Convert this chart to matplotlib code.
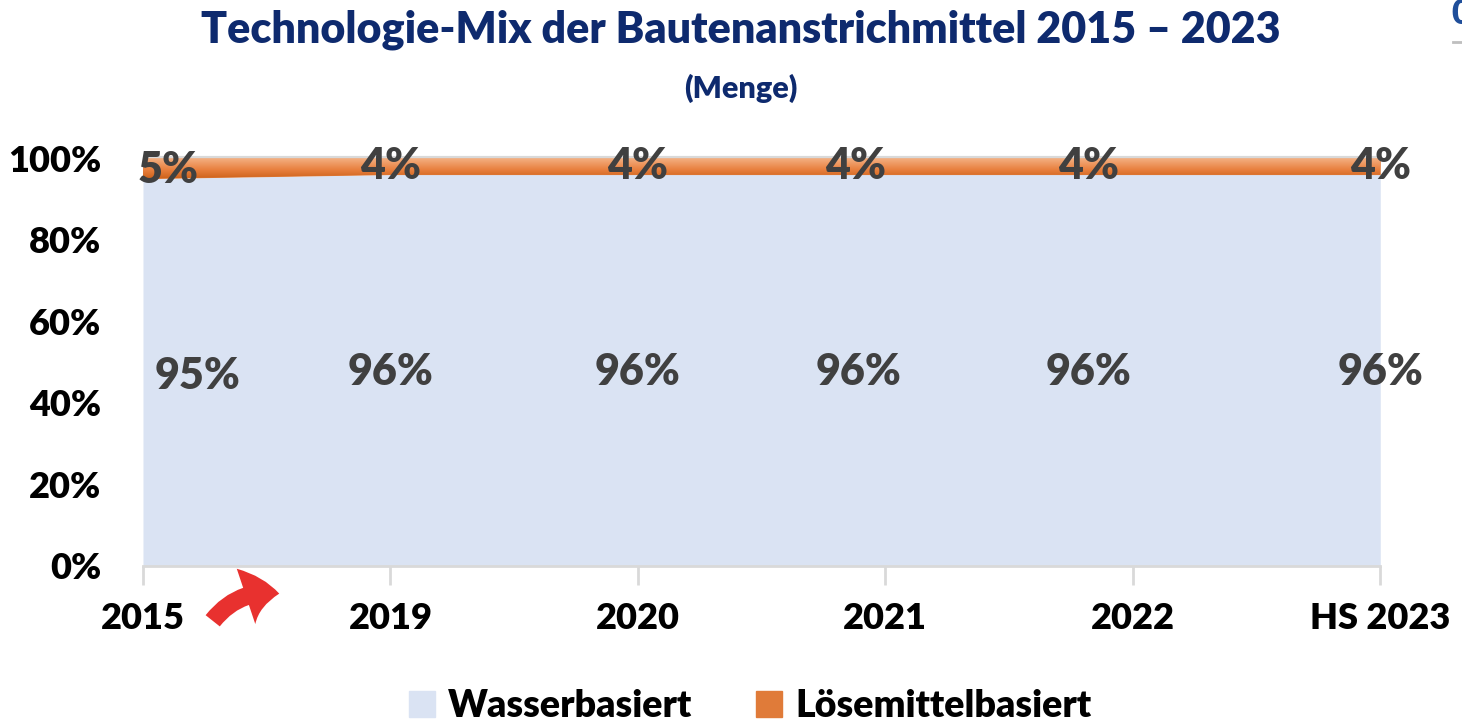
import numpy as np
import matplotlib.pyplot as plt
from matplotlib.patches import FancyArrowPatch, Patch
from matplotlib.colors import LinearSegmentedColormap
from matplotlib.lines import Line2D

plt.rcParams['font.family'] = ['Lato', 'DejaVu Sans']

# data
jahre = ['2015', '2019', '2020', '2021', '2022', 'HS 2023']
wasser = [95, 96, 96, 96, 96, 96]
loesemittel = [5, 4, 4, 4, 4, 4]

navy = '#0e2a6e'
label_grey = '#404040'

fig = plt.figure(figsize=(14.62, 7.26), dpi=100)
ax = fig.add_axes([0.0978, 0.2204, 0.8463, 0.5661])

x = np.arange(len(jahre))
w = np.array(wasser, dtype=float)
s = np.array(loesemittel, dtype=float)

ax.fill_between(x, 0, w, color='#dae3f3', lw=0, zorder=2)
band = ax.fill_between(x, w, w + s, color='#e07b39', lw=0, zorder=3)

# orange gradient clipped to the band
grad = np.linspace(0, 1, 256).reshape(-1, 1)
cm = LinearSegmentedColormap.from_list('or', ['#c55a11', '#e9803f', '#f4b183'])
img = ax.imshow(grad, cmap=cm, aspect='auto', origin='lower',
                extent=[0, len(jahre) - 1, 94.5, 100], zorder=3)
img.set_clip_path(band.get_paths()[0], transform=ax.transData)

# gridline at 100%
ax.axhline(100, color='#d9d9d9', lw=3, zorder=1)

ax.set_xlim(0, len(jahre) - 1)
ax.set_ylim(0, 100.8)
ax.set_yticks([0, 20, 40, 60, 80, 100])
ax.set_yticklabels([f'{v}%' for v in range(0, 101, 20)])
ax.set_xticks(x)
ax.set_xticklabels(jahre)
for sp in ['top', 'right', 'left']:
    ax.spines[sp].set_visible(False)
ax.spines['bottom'].set_color('#d9d9d9')
ax.spines['bottom'].set_linewidth(2)
ax.tick_params(axis='x', length=14, width=2, color='#d9d9d9', pad=12,
               labelsize=26)
ax.tick_params(axis='y', length=0, pad=30, labelsize=26)
for lab in ax.get_xticklabels() + ax.get_yticklabels():
    lab.set_fontweight('heavy')

# data labels (small horizontal offsets as in the original)
dx_w = [0.22, 0, 0, -0.11, -0.18, 0]
dx_s = [0.1, 0, 0, -0.12, -0.18, 0]
for i in range(len(jahre)):
    ax.text(x[i] + dx_w[i], 46.5 if i == 0 else 47.5, f'{wasser[i]}%',
            ha='center', va='center', fontsize=31, fontweight='heavy',
            color=label_grey, zorder=5, clip_on=False)
    ax.text(x[i] + dx_s[i], 97 if i == 0 else 98, f'{loesemittel[i]}%',
            ha='center', va='center', fontsize=31, fontweight='heavy',
            color=label_grey, zorder=5, clip_on=False)

# red arrow between 2015 and 2019
arrow = FancyArrowPatch((211 / 1462, 1 - 623 / 726), (282 / 1462, 1 - 594 / 726),
                        transform=fig.transFigure, connectionstyle='arc3,rad=-0.3',
                        arrowstyle='simple,head_width=42,head_length=24,tail_width=13',
                        color='#e8312f', lw=0, mutation_scale=1)
fig.patches.append(arrow)

fig.text(0.507, 1 - 30 / 726, 'Technologie-Mix der Bautenanstrichmittel 2015 – 2023',
         ha='center', va='center', fontsize=31, fontweight='heavy', color=navy)
fig.text(0.507, 1 - 88 / 726, '(Menge)', ha='center', va='center',
         fontsize=22, fontweight='heavy', color=navy)
# cut-off element at the right edge of the original slide
fig.text(1451 / 1462, 1 - 14 / 726, '0', ha='left', va='center',
         fontsize=24, fontweight='heavy', color='#1f4e9a')
fig.add_artist(Line2D([1453 / 1462, 1.0], [1 - 42 / 726, 1 - 42 / 726],
                      transform=fig.transFigure, color='#bfbfbf', lw=2))

handles = [Patch(color='#dae3f3', label='Wasserbasiert'),
           Patch(color='#e07b39', label='Lösemittelbasiert')]
leg = fig.legend(handles=handles, loc='center', bbox_to_anchor=(0.513, 1 - 706 / 726),
                 ncol=2, frameon=False, fontsize=27, handlelength=0.7,
                 handleheight=0.7, handletextpad=0.35, columnspacing=1.7)
for t in leg.get_texts():
    t.set_fontweight('heavy')

fig.savefig('out.png', dpi=100)
